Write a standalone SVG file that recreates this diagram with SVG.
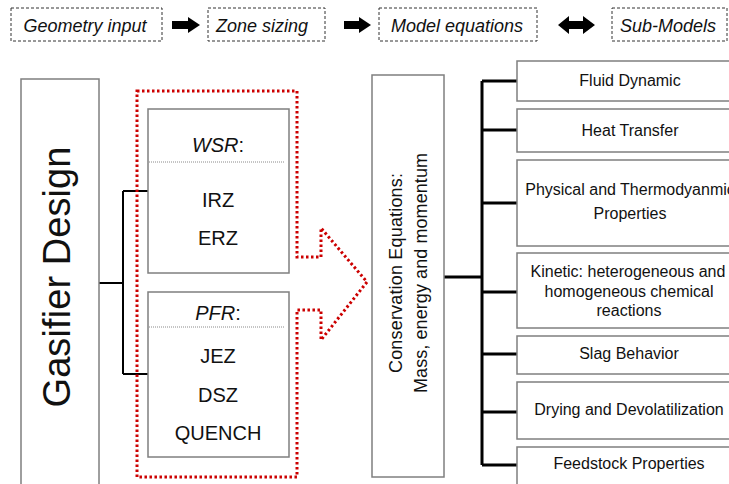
<svg xmlns="http://www.w3.org/2000/svg" width="729" height="484" viewBox="0 0 729 484">
<style>
text{font-family:"Liberation Sans",Arial,sans-serif;fill:#111;}
.hdr{fill:#fff;stroke:#333;stroke-width:1;stroke-dasharray:3 2;}
.hdrt{font-size:18px;font-style:italic;text-anchor:middle;}
.box{fill:#fff;stroke:#7f7f7f;stroke-width:1.5;}
.sep{stroke:#8a8a8a;stroke-width:1;stroke-dasharray:1 1;fill:none;}
.zt{font-size:20px;text-anchor:middle;}
.st{font-size:16px;text-anchor:middle;}
.ln{fill:none;stroke:#000;stroke-width:2;}
.lnb{fill:none;stroke:#000;stroke-width:3;}
.red{fill:none;stroke:#cc0000;stroke-width:3;stroke-dasharray:2.5 2.5;}
.arr{fill:#000;}
</style>
<g id="header">
  <g id="geometry-input"><rect class="hdr" x="11" y="8" width="151" height="33"/><text class="hdrt" x="85" y="32">Geometry input</text></g>
  <path class="arr" d="M172,21 H188 V17 L200,25 L188,33 V29 H172 Z"/>
  <g id="zone-sizing"><rect class="hdr" x="208" y="8" width="117" height="33"/><text class="hdrt" x="262" y="32">Zone sizing</text></g>
  <path class="arr" d="M344,21 H359 V17 L371,25 L359,33 V29 H344 Z"/>
  <g id="model-equations"><rect class="hdr" x="379" y="8" width="158" height="33"/><text class="hdrt" x="457" y="32">Model equations</text></g>
  <path class="arr" d="M558,25 L569,16 V21 H583 V16 L595,25 L583,34 V29 H569 V34 Z"/>
  <g id="sub-models"><rect class="hdr" x="612" y="8" width="115" height="33"/><text class="hdrt" x="668" y="32">Sub-Models</text></g>
</g>
<g id="connectors">
  <path class="ln" d="M99,283 H123 M123,191 V374 M123,191 H148 M123,374 H148"/>
  <path class="lnb" d="M444,277 H482 M482,81 V465 M482,81 H517 M482,130 H517 M482,203 H517 M482,292 H517 M482,354 H517 M482,412 H517 M482,465 H517"/>
</g>
<g id="gasifier-design">
  <rect class="box" x="21" y="79" width="78" height="420"/>
  <text transform="translate(70,277) rotate(-90)" font-size="38" text-anchor="middle" textLength="261">Gasifier Design</text>
</g>
<g id="zone-arrow">
  <path class="red" d="M137,91 H297 V257 H321 V228 L367,282 L321,340 V310 H297 V477 H137 Z"/>
</g>
<g id="wsr">
  <rect class="box" x="148" y="109" width="141" height="164"/>
  <line class="sep" x1="149" y1="162" x2="285" y2="162"/>
  <text class="zt" x="218" y="152"><tspan font-style="italic">WSR</tspan>:</text>
  <text class="zt" x="218" y="207">IRZ</text>
  <text class="zt" x="218" y="245">ERZ</text>
</g>
<g id="pfr">
  <rect class="box" x="148" y="292" width="141" height="165"/>
  <line class="sep" x1="149" y1="327" x2="285" y2="327"/>
  <text class="zt" x="218" y="320"><tspan font-style="italic">PFR</tspan>:</text>
  <text class="zt" x="218" y="363">JEZ</text>
  <text class="zt" x="218" y="402">DSZ</text>
  <text class="zt" x="218" y="440">QUENCH</text>
</g>
<g id="conservation-equations">
  <rect class="box" x="372" y="75" width="72" height="402"/>
  <text transform="translate(402,273) rotate(-90)" font-size="18" text-anchor="middle" textLength="200">Conservation  Equations:</text>
  <text transform="translate(427,273) rotate(-90)" font-size="18" text-anchor="middle" textLength="240">Mass, energy and momentum</text>
</g>
<g id="fluid-dynamic"><rect class="box" x="517" y="61" width="230" height="40"/><text class="st" x="630" y="86">Fluid Dynamic</text></g>
<g id="heat-transfer"><rect class="box" x="517" y="109" width="230" height="43"/><text class="st" x="630" y="136">Heat Transfer</text></g>
<g id="physical-properties"><rect class="box" x="517" y="160" width="230" height="86"/><text class="st" x="630" y="195">Physical and Thermodyanmic</text><text class="st" x="630" y="219">Properties</text></g>
<g id="kinetic"><rect class="box" x="517" y="253" width="230" height="75"/><text class="st" x="628" y="277">Kinetic: heterogeneous and</text><text class="st" x="629" y="297">homogeneous chemical</text><text class="st" x="629" y="316">reactions</text></g>
<g id="slag-behavior"><rect class="box" x="517" y="336" width="230" height="38"/><text class="st" x="629" y="359">Slag Behavior</text></g>
<g id="drying"><rect class="box" x="517" y="382" width="230" height="57"/><text class="st" x="629" y="415">Drying and Devolatilization</text></g>
<g id="feedstock"><rect class="box" x="517" y="447" width="230" height="50"/><text class="st" x="629" y="469">Feedstock Properties</text></g>
</svg>
